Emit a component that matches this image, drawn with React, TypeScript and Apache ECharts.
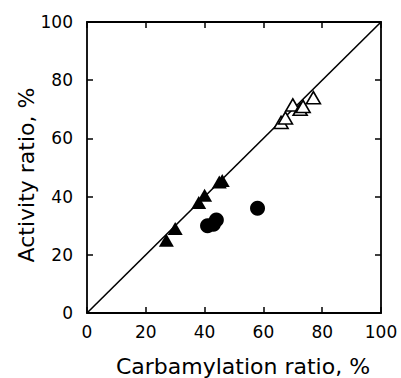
import React, { useEffect, useRef } from "react";
import * as echarts from "echarts";

const filledTriangles: [number, number][] = [
  [27, 25], [30, 29], [38, 38], [40, 40.5], [45, 45], [46, 45.5],
];
const openTriangles: [number, number][] = [
  [66, 65.5], [67.5, 67], [70, 71.5], [72.5, 70], [73.5, 71], [77, 74],
];
const filledCircles: [number, number][] = [
  [41, 30], [43, 30.5], [44, 32], [58, 36],
];
const identityLine: [number, number][] = [[0, 0], [100, 100]];
const xTitle = "Carbamylation ratio, %";
const yTitle = "Activity ratio, %";

export default function App() {
  const ref = useRef<HTMLDivElement>(null);
  useEffect(() => {
    document.body.style.margin = "0";
    const chart = echarts.init(ref.current!, null, { renderer: "svg" });
    const font = "DejaVu Sans";
    const axisCommon = {
      min: 0,
      max: 100,
      interval: 20,
      splitLine: { show: false },
      axisLine: { show: true, onZero: false, lineStyle: { color: "#000", width: 1.8 } },
      axisTick: { show: true, inside: true, length: 6, lineStyle: { color: "#000", width: 1.5 } },
    };
    chart.setOption({
      animation: false,
      backgroundColor: "#fff",
      grid: { left: 87, right: 20, top: 22, bottom: 65 },
      graphic: [
        {
          type: "text",
          x: 243,
          y: 366,
          style: {
            text: xTitle,
            fontFamily: font,
            fontSize: 22,
            fill: "#000",
            align: "center",
            verticalAlign: "middle",
          },
        },
        {
          type: "text",
          x: 26,
          y: 175,
          rotation: Math.PI / 2,
          style: {
            text: yTitle,
            fontFamily: font,
            fontSize: 22,
            fill: "#000",
            align: "center",
            verticalAlign: "middle",
          },
        },
      ],
      xAxis: [
        {
          ...axisCommon,
          type: "value",
          position: "bottom",
          axisLabel: { fontFamily: font, fontSize: 17, color: "#000", margin: 10 },
        },
        {
          ...axisCommon,
          type: "value",
          position: "top",
          axisLabel: { show: false },
        },
      ],
      yAxis: [
        {
          ...axisCommon,
          type: "value",
          position: "left",
          axisLabel: { fontFamily: font, fontSize: 17, color: "#000", margin: 14 },
        },
        {
          ...axisCommon,
          type: "value",
          position: "right",
          axisLabel: { show: false },
        },
      ],
      series: [
        {
          type: "line",
          data: identityLine,
          symbol: "none",
          lineStyle: { color: "#000", width: 1.6 },
          z: 1,
        },
        {
          type: "scatter",
          data: filledTriangles,
          symbol: "triangle",
          symbolSize: [15, 13],
          itemStyle: { color: "#000", opacity: 1 },
          z: 3,
        },
        {
          type: "scatter",
          data: openTriangles,
          symbol: "triangle",
          symbolSize: [14, 12],
          itemStyle: { color: "#fff", borderColor: "#000", borderWidth: 1.6, opacity: 1 },
          z: 3,
        },
        {
          type: "scatter",
          data: filledCircles,
          symbol: "circle",
          symbolSize: 15,
          itemStyle: { color: "#000", opacity: 1 },
          z: 3,
        },
      ],
    });
    return () => chart.dispose();
  }, []);
  return <div ref={ref} style={{ width: 401, height: 378 }} />;
}
